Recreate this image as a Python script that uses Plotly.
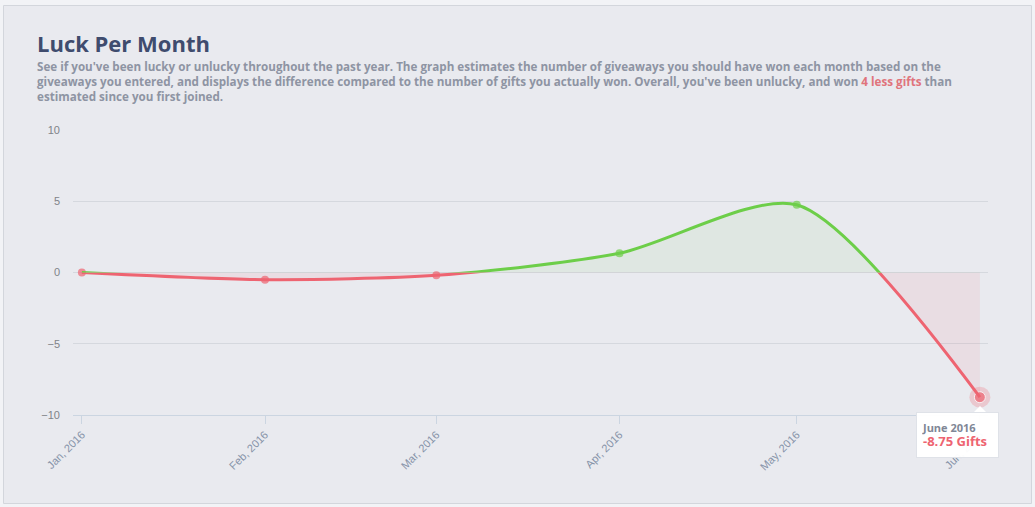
import plotly.graph_objects as go

# ---- data ----
months = ["2016-01-01", "2016-02-01", "2016-03-01", "2016-04-01", "2016-05-01", "2016-06-01"]
month_labels = ["Jan, 2016", "Feb, 2016", "Mar, 2016", "Apr, 2016", "May, 2016", "Jun, 2016"]
luck = [0, -0.5, -0.2, 1.35, 4.75, -8.75]
y_ticks = [-10, -5, 0, 5, 10]

RED = "#ee6471"
GREEN = "#6dce49"
SMOOTH = 0.75

W, H = 1035, 507
L, R, T, B = 73, 988, 130, 415  # plot area in pixels


def px(x):
    return (x - L) / (R - L)


def py(y):
    return (B - y) / (B - T)


fig = go.Figure()

# negative (red) part, clipped to lower half subplot
fig.add_trace(go.Scatter(
    x=months, y=luck, mode="lines", line=dict(color=RED, width=3, shape="spline", smoothing=SMOOTH),
    fill="tozeroy", fillcolor="rgba(238,100,113,0.09)", xaxis="x", yaxis="y2",
    hoverinfo="skip", showlegend=False))
# positive (green) part, clipped to upper half subplot
fig.add_trace(go.Scatter(
    x=months, y=luck, mode="lines", line=dict(color=GREEN, width=3, shape="spline", smoothing=SMOOTH),
    fill="tozeroy", fillcolor="rgba(109,206,73,0.08)", xaxis="x", yaxis="y3",
    hoverinfo="skip", showlegend=False))

# halo on the last (hovered) point
fig.add_trace(go.Scatter(
    x=[months[-1]], y=[luck[-1]], mode="markers",
    marker=dict(size=21, color="rgba(238,100,113,0.25)", line=dict(width=0)),
    cliponaxis=False, hoverinfo="skip", showlegend=False))

marker_colors = [RED if v <= 0 else GREEN for v in luck]
marker_sizes = [8] * (len(luck) - 1) + [11]
marker_lines = [0] * (len(luck) - 1) + [1]
fig.add_trace(go.Scatter(
    x=months, y=luck, mode="markers",
    marker=dict(size=marker_sizes, color=marker_colors,
                line=dict(color="white", width=marker_lines)),
    cliponaxis=False, hoverinfo="skip", showlegend=False))

# card background
fig.add_shape(type="rect", xref="paper", yref="paper",
              x0=px(3.5), x1=px(1031.5), y0=py(503.5), y1=py(5.5),
              fillcolor="#e9eaef", line=dict(color="#d3d6dc", width=1), layer="below")

# title + description
fig.add_annotation(xref="paper", yref="paper", x=px(35), y=py(26), xanchor="left", yanchor="top",
                   text="<b>Luck Per Month</b>", showarrow=False,
                   font=dict(family="Open Sans", size=22, color="#3f4c6e"))
desc = ("See if you've been lucky or unlucky throughout the past year. The graph estimates the number of giveaways you should have won each month based on the<br>"
        "giveaways you entered, and displays the difference compared to the number of gifts you actually won. Overall, you've been unlucky, and won "
        "<span style='color:#e0747c'>4 less gifts</span> than<br>estimated since you first joined.")
fig.add_annotation(xref="paper", yref="paper", x=px(35), y=py(57), xanchor="left", yanchor="top",
                   text="<b>" + desc + "</b>", showarrow=False, align="left",
                   font=dict(family="Open Sans", size=11.65, color="#8e94a3"))

# tooltip
fig.add_annotation(xref="paper", yref="paper", x=px(916), y=py(412), xanchor="left", yanchor="top",
                   text="<b>June 2016</b><br><b><span style='font-size:13px;color:#ee6471'>-8.75 Gifts</span></b>",
                   showarrow=False, align="left", valign="middle", bgcolor="rgba(255,255,255,0.97)",
                   bordercolor="#dfe2e8", borderwidth=1, borderpad=5, width=71, height=34,
                   font=dict(family="Open Sans", size=11, color="#7f8796"))
fig.add_shape(type="path", xref="paper", yref="paper",
              path=f"M {px(973)} {py(413)} L {px(980)} {py(406)} L {px(987)} {py(413)} Z",
              fillcolor="white", line=dict(width=0), layer="above")

fig.update_layout(
    width=W, height=H,
    margin=dict(l=L, r=W - R, t=T, b=H - B, pad=0),
    paper_bgcolor="#f2f3f6", plot_bgcolor="rgba(0,0,0,0)",
    showlegend=False,
    xaxis=dict(type="date", range=["2015-12-30 12:00", "2016-06-02 09:00"],
               tickvals=months, ticktext=month_labels, tickangle=-45,
               showgrid=False, zeroline=False, showline=True, linecolor="#cbd5e1", linewidth=1,
               ticks="outside", ticklen=8, tickcolor="#cbd5e1",
               tickfont=dict(family="Liberation Sans, Arial", size=11, color="#8592a8"),
               anchor="y", fixedrange=True),
    yaxis=dict(domain=[0, 1], range=[-10, 10], tickvals=y_ticks,
               showgrid=True, gridcolor="#d5d8de", gridwidth=1, zeroline=False,
               showline=False, ticks="", ticklabelstandoff=12,
               tickfont=dict(family="Liberation Sans, Arial", size=11, color="#808389"),
               anchor="x"),
    yaxis2=dict(domain=[0, 0.5], range=[-10, 0], visible=False, anchor="x"),
    yaxis3=dict(domain=[0.5, 1], range=[0, 10], visible=False, anchor="x"),
)

fig.write_html("out.html")
